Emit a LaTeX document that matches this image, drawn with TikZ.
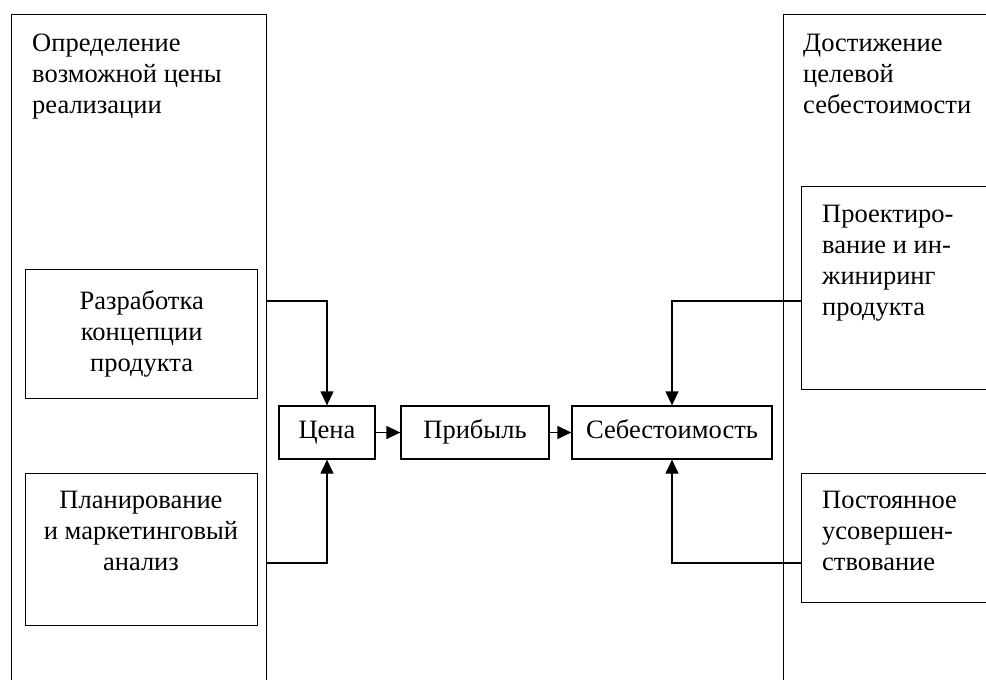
\documentclass[tikz,border=0pt]{standalone}
\usepackage{fontspec}
\setmainfont{Liberation Serif}
\usetikzlibrary{arrows.meta}
\tikzset{
  frame/.style={draw, line width=1.3pt, inner sep=0pt, anchor=north west},
  stage/.style={draw, line width=1.3pt, inner sep=0pt, minimum height=53pt, text height=18pt, text depth=6pt},
  caption/.style={inner sep=0pt, align=left, anchor=north west},
  flow/.style={line width=1.3pt, -{Triangle[length=14pt,width=13pt]}},
}
\begin{document}
\begin{tikzpicture}[x=1pt, y=-1pt, font=\fontsize{26.5}{31}\selectfont]
    \clip (0,0) rectangle (986,680);
    \fill[white] (0,0) rectangle (986,680);

    % two outer columns
    \node[frame, minimum width=255pt, minimum height=720pt] (leftbig) at (11,14) {};
    \node[frame, minimum width=260pt, minimum height=720pt] (rightbig) at (783,14) {};
    \node[caption] (lefttitle) at (32,33.5) {Определение\\возможной цены\\реализации};
    \node[caption] (righttitle) at (803,33.5) {Достижение\\целевой\\себестоимости};

    \node[frame, minimum width=232pt, minimum height=129pt, align=center] (concept) at (25,269) {Разработка\\концепции\\продукта};
    \node[frame, minimum width=232pt, minimum height=152pt] (plan) at (25,473) {};
    \node[inner sep=0pt, align=center, anchor=north] (plantext) at (141,490.5) {Планирование\\и маркетинговый\\анализ};

    \node[frame, minimum width=220pt, minimum height=203pt] (design) at (801,186) {};
    \node[caption] (designtext) at (822,204.5) {Проектиро-\\вание и ин-\\жиниринг\\продукта};
    \node[frame, minimum width=220pt, minimum height=129pt] (improve) at (801,473) {};
    \node[caption] (improvetext) at (822,490.5) {Постоянное\\усовершен-\\ствование};

    % middle chain
    \node[stage, minimum width=96pt] (price) at (327,432.5) {Цена};
    \node[stage, minimum width=148pt] (profit) at (475,432.5) {Прибыль};
    \node[stage, minimum width=200pt] (cost) at (672,432.5) {Себестоимость};

    \coordinate (in1) at (266,301);
    \coordinate (in2) at (266,563);
    \coordinate (in3) at (801,301);
    \coordinate (in4) at (801,563);
    \draw[flow] (in1) -| (price.north);
    \draw[flow] (in2) -| (price.south);
    \draw[flow] (in3) -| (cost.north);
    \draw[flow] (in4) -| (cost.south);
    \draw[flow] (price) -- (profit);
    \draw[flow] (profit) -- (cost);
\end{tikzpicture}
\end{document}
